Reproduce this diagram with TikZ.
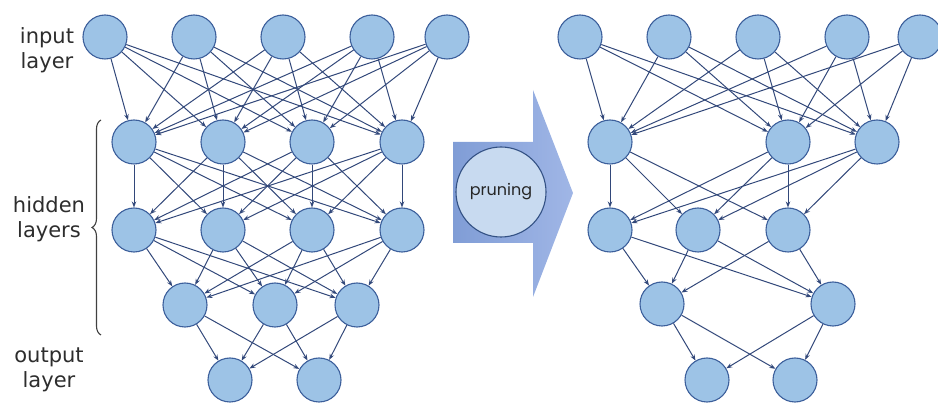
\documentclass[tikz,border=0pt]{standalone}
\usepackage{fontspec}
\setmainfont{DejaVu Sans}
\newfontfamily\prunefont{Poppins}
\usetikzlibrary{arrows.meta,decorations.pathreplacing,shadings}

\definecolor{nodefill}{RGB}{157,195,230}
\definecolor{nodeline}{RGB}{60,95,155}
\definecolor{edgeline}{RGB}{50,72,122}
\definecolor{arrowdark}{RGB}{128,157,214}
\definecolor{arrowlight}{RGB}{160,182,230}
\definecolor{prunefill}{RGB}{200,218,240}
\definecolor{labeltext}{RGB}{45,45,45}

\begin{document}
\begin{tikzpicture}[x=1pt,y=-1pt,
  neuron/.style={circle,draw=nodeline,fill=nodefill,line width=1.1pt,minimum size=44pt,inner sep=0pt},
  link/.style={draw=edgeline,line width=1pt,-{Stealth[length=6pt,width=4.5pt]}},
  layerlabel/.style={align=center,font=\fontsize{21}{25}\selectfont,text=labeltext}]
\useasboundingbox (0,0) rectangle (938,403);

% ---------- full network ----------
\foreach \x [count=\i] in {105,194,283,372,447} \node[neuron] (a0\i) at (\x,37) {};
\foreach \x [count=\i] in {134,223,312,402} \node[neuron] (a1\i) at (\x,142) {};
\foreach \x [count=\i] in {134,223,312,402} \node[neuron] (a2\i) at (\x,230) {};
\foreach \x [count=\i] in {185,275,357} \node[neuron] (a3\i) at (\x,305) {};
\foreach \x [count=\i] in {230,319} \node[neuron] (a4\i) at (\x,380) {};

\foreach \i in {1,...,5} \foreach \j in {1,...,4} \draw[link] (a0\i) -- (a1\j);
\foreach \i in {1,...,4} \foreach \j in {1,...,4} \draw[link] (a1\i) -- (a2\j);
\foreach \i in {1,...,4} \foreach \j in {1,...,3} \draw[link] (a2\i) -- (a3\j);
\foreach \i in {1,...,3} \foreach \j in {1,...,2} \draw[link] (a3\i) -- (a4\j);

% ---------- pruned network ----------
\foreach \x [count=\i] in {580,669,758,847,920} \node[neuron] (b0\i) at (\x,37) {};
\foreach \x [count=\i] in {610,788,877} \node[neuron] (b1\i) at (\x,142) {};
\foreach \x [count=\i] in {610,698,788} \node[neuron] (b2\i) at (\x,230) {};
\foreach \x [count=\i] in {662,833} \node[neuron] (b3\i) at (\x,304) {};
\foreach \x [count=\i] in {707,795} \node[neuron] (b4\i) at (\x,380) {};

\foreach \i in {1,...,5} \foreach \j in {1,...,3} \draw[link] (b0\i) -- (b1\j);
\foreach \i in {1,...,3} \foreach \j in {1,...,3} \draw[link] (b1\i) -- (b2\j);
\foreach \i in {1,...,3} \foreach \j in {1,...,2} \draw[link] (b2\i) -- (b3\j);
\foreach \i in {1,...,2} \foreach \j in {1,...,2} \draw[link] (b3\i) -- (b4\j);

% ---------- pruning arrow ----------
\shade[left color=arrowdark,right color=arrowlight]
  (453,142) -- (533,142) -- (533,90) -- (573,193) -- (533,297) -- (533,243) -- (453,243) -- cycle;
\node[circle,draw=nodeline!85!black,fill=prunefill,line width=1.1pt,minimum size=90pt,inner sep=0pt,
      font=\prunefont\fontsize{16}{19}\selectfont,text=black!85] (prune) at (501,192) {pruning};

% ---------- labels ----------
\node[layerlabel] (lin) at (47,50) {input\\layer};
\node[layerlabel] (lhid) at (49,219) {hidden\\layers};
\node[layerlabel] (lout) at (49,370) {output\\layer};
\draw[decorate,decoration={brace,amplitude=9pt},line width=1.1pt,draw=black!75] (101,335) -- (101,120);
\end{tikzpicture}
\end{document}
